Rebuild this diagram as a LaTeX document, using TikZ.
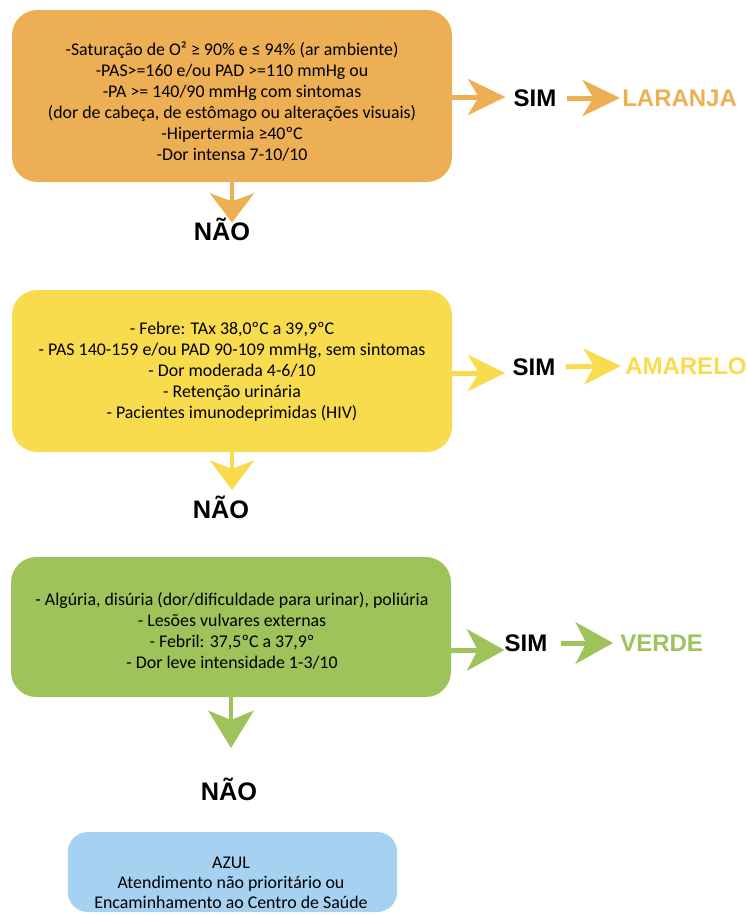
\documentclass[tikz,border=0pt]{standalone}
\usepackage{fontspec}
\setmainfont{Carlito}
\newfontfamily\headfont{Liberation Sans}
\usetikzlibrary{arrows.meta}

\definecolor{laranja}{RGB}{237,175,84}
\definecolor{amarelo}{RGB}{249,219,78}
\definecolor{verde}{RGB}{157,195,90}
\definecolor{azul}{RGB}{166,209,240}

\tikzset{
  panel/.style={rectangle, rounded corners=19pt, fill=#1, draw=none, inner sep=0pt},
  crit/.style={align=center, inner sep=0pt, font=\fontsize{13.4pt}{15.75pt}\selectfont},
  tag/.style={inner sep=0pt, font=\headfont\bfseries\fontsize{18pt}{20pt}\selectfont},
  nao/.style={inner sep=0pt, font=\headfont\bfseries\fontsize{19pt}{21pt}\selectfont},
  hflow/.style={line width=3.75pt, draw=#1, -{Stealth[length=28pt,width=27pt,inset=8pt]}},
  bigflow/.style={line width=3.75pt, draw=#1, -{Stealth[length=28pt,width=31pt,inset=8pt]}},
  vflow/.style={line width=3pt, draw=#1, -{Stealth[length=22pt,width=33pt,inset=6pt]}},
}

\begin{document}
\begin{tikzpicture}[x=0.75pt,y=-0.75pt]
\useasboundingbox (0,0) rectangle (747,915);

% --- orange level ---
\node[panel=laranja, minimum width=330pt, minimum height=129pt] (boxL) at (232,96) {};
\node[crit] (txtL) at (232,101) {-Saturação de O² ≥ 90\% e ≤ 94\% (ar ambiente)\\
-PAS>=160 e/ou PAD >=110 mmHg ou\\
-PA >= 140/90 mmHg com sintomas\\
(dor de cabeça, de estômago ou alterações visuais)\\
-Hipertermia ≥40ºC\\
-Dor intensa 7-10/10};
\node[tag] (simL) at (535,98) {SIM};
\node[tag, text=laranja, anchor=west] (resL) at (622,98) {LARANJA};
\node[nao] (naoL) at (222,229) {NÃO};
\coordinate (outL) at (boxL.east |- 0,97);
\draw[hflow=laranja, shorten >=8*0.75pt] (outL) -- (outL -| simL.west);
\draw[hflow=laranja, shorten <=10*0.75pt, shorten >=2*0.75pt] (simL.east) -- (resL.west);
\draw[vflow=laranja, shorten >=-4pt] (boxL.south) -- (boxL.south |- naoL.north);

% --- yellow level ---
\node[panel=amarelo, minimum width=330pt, minimum height=121.5pt] (boxA) at (232,371) {};
\node[crit] (txtA) at (232,372) {- Febre: TAx 38,0ºC a 39,9ºC\\
- PAS 140-159 e/ou PAD 90-109 mmHg, sem sintomas\\
- Dor moderada 4-6/10\\
- Retenção urinária\\
- Pacientes imunodeprimidas (HIV)};
\node[tag] (simA) at (534,367) {SIM};
\node[tag, text=amarelo, anchor=west] (resA) at (625,366) {AMARELO};
\node[nao] (naoA) at (221,507) {NÃO};
\coordinate (outA) at (boxA.east |- 0,373);
\draw[hflow=amarelo, shorten >=7*0.75pt] (outA) -- (outA -| simA.west);
\draw[hflow=amarelo, shorten <=10*0.75pt, shorten >=4*0.75pt] (simA.east) -- (resA.west);
\draw[vflow=amarelo, shorten >=4pt] (boxA.south) -- (boxA.south |- naoA.north);

% --- green level ---
\node[panel=verde, minimum width=330pt, minimum height=105pt] (boxV) at (231,627) {};
\node[crit] (txtV) at (232,631) {- Algúria, disúria (dor/dificuldade para urinar), poliúria\\
- Lesões vulvares externas\\
- Febril: 37,5ºC a 37,9º\\
- Dor leve intensidade 1-3/10};
\node[tag] (simV) at (526,643) {SIM};
\node[tag, text=verde, anchor=west] (resV) at (620,643) {VERDE};
\node[nao] (naoV) at (229,789) {NÃO};
\coordinate (outV) at (boxV.east |- 0,650);
\draw[bigflow=verde] (outV) -- (outV -| simV.west);
\draw[bigflow=verde, shorten <=13*0.75pt, shorten >=7*0.75pt] (simV.east) -- (resV.west);
\draw[vflow=verde, -{Stealth[length=28pt,width=34pt,inset=7pt]}, shorten >=22pt] (boxV.south) -- (boxV.south |- naoV.north);

% --- blue outcome ---
\node[panel=azul, rounded corners=15pt, minimum width=247pt, minimum height=60pt] (boxZ) at (232.5,872) {};
\node[crit, font=\fontsize{13.4pt}{15pt}\selectfont] (txtZ) at (231,883) {AZUL\\
Atendimento não prioritário ou\\
Encaminhamento ao Centro de Saúde};
\end{tikzpicture}
\end{document}
